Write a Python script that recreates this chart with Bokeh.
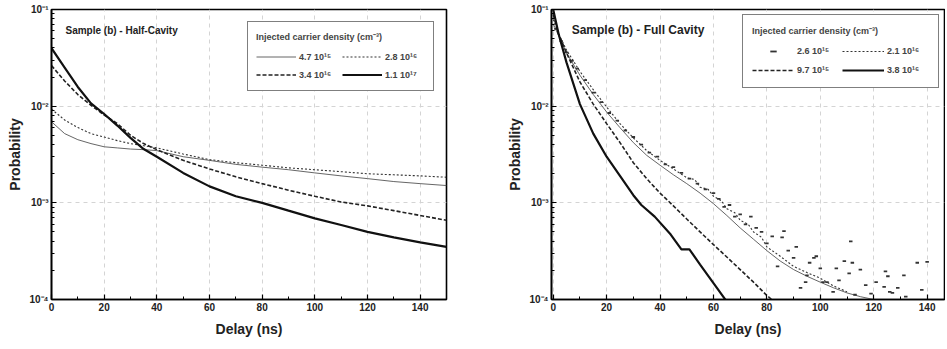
from bokeh.plotting import figure
from bokeh.layouts import row
from bokeh.models import Range1d, FixedTicker, Legend, LegendItem, Label
from bokeh.embed import file_html
from bokeh.resources import INLINE

FONT = "Liberation Sans"

# ---------------- Left panel: Sample (b) - Half-Cavity ----------------
half_delay = [0, 5, 10, 15, 20, 25, 30, 35, 40, 50, 60, 70, 80, 90, 100, 110, 120, 130, 140, 150]
half_4p7e15 = [0.0069, 0.0052, 0.0045, 0.0041, 0.0038, 0.0037, 0.0036, 0.00355, 0.00347, 0.0030,
               0.00275, 0.0025, 0.00234, 0.0022, 0.00204, 0.0019, 0.00178, 0.00166, 0.00158, 0.00151]
half_2p8e16 = [0.0093, 0.0072, 0.0060, 0.0052, 0.0048, 0.0044, 0.0041, 0.0039, 0.0037, 0.0032,
               0.0028, 0.0026, 0.00245, 0.0023, 0.0022, 0.0021, 0.0020, 0.00195, 0.0019, 0.00184]
half_3p4e16 = [0.0263, 0.0182, 0.0132, 0.0102, 0.0081, 0.0066, 0.0050, 0.0041, 0.00355, 0.00275,
               0.00224, 0.00186, 0.00158, 0.00135, 0.00117, 0.00102, 0.00093, 0.00083, 0.00074, 0.00066]
half_1p1e17 = [0.0398, 0.0251, 0.0158, 0.0107, 0.0083, 0.0063, 0.0047, 0.0036, 0.0030, 0.00204,
               0.00148, 0.00117, 0.00100, 0.00083, 0.00069, 0.00059, 0.00050, 0.00044, 0.00039, 0.00035]

# ---------------- Right panel: Sample (b) - Full Cavity ----------------
full_3p8e16_delay = [0, 2, 5, 10, 15, 20, 25, 30, 33, 38, 44, 48, 51, 55, 60, 65]
full_3p8e16 = [0.100, 0.0562, 0.0282, 0.0105, 0.0052, 0.0030, 0.0019, 0.0012, 0.00095, 0.00072,
               0.00047, 0.00033, 0.00033, 0.00023, 0.000148, 0.000095]

full_9p7e15_delay = [0, 2, 5, 10, 15, 20, 25, 30, 35, 40, 45, 50, 55, 60, 65, 70, 75, 80, 84]
full_9p7e15 = [0.089, 0.056, 0.0355, 0.0178, 0.0105, 0.0066, 0.0042, 0.0026, 0.00178, 0.00126,
               0.00093, 0.00068, 0.00050, 0.00037, 0.000275, 0.000204, 0.000151, 0.00011, 0.000089]

full_2p1e16_delay = [0, 2, 5, 10, 15, 20, 25, 30, 35, 40, 45, 50, 53, 55, 58, 60, 63, 65, 68, 70,
                     73, 75, 78, 80, 85, 90, 95, 100, 105, 110]
full_2p1e16 = [0.079, 0.056, 0.038, 0.0229, 0.0148, 0.0098, 0.0066, 0.0047, 0.00347, 0.00275,
               0.00224, 0.00182, 0.00174, 0.00145, 0.00138, 0.00117, 0.00105, 0.00087, 0.00079, 0.00066,
               0.00060, 0.00050, 0.00044, 0.00035, 0.00028, 0.00022, 0.00019, 0.000166, 0.000138, 0.00012]

full_fit_delay = [0, 5, 10, 15, 20, 25, 30, 35, 40, 45, 50, 55, 60, 65, 70, 75, 80, 85, 90, 95,
                  100, 105, 110, 115, 120]
full_fit = [0.071, 0.0355, 0.0209, 0.0132, 0.0087, 0.0060, 0.0042, 0.0031, 0.00245, 0.00195,
            0.00158, 0.00126, 0.00098, 0.00074, 0.00055, 0.00042, 0.00032, 0.00025, 0.000204, 0.000174,
            0.000151, 0.000132, 0.000117, 0.000107, 0.0001]

full_2p6e15_delay = [1, 3, 5, 7, 9, 12, 15, 18, 21, 24, 27, 30, 33, 36, 39, 42, 45, 48, 51, 54,
                     57, 60, 62, 64, 66, 68, 70, 72, 74, 76, 78, 80, 82, 84, 85.7, 86.4, 88, 90, 91, 92.6,
                     94.5, 95, 96, 97.6, 98.5, 100, 101, 102.5, 104.8, 106, 107, 109, 110.8, 111.4, 112,
                     113, 115, 117, 119, 120.9, 123.9, 124.4, 125.3, 126, 127, 129, 131.3, 132, 136.3, 138, 140]
full_2p6e15 = [0.063, 0.047, 0.036, 0.0295, 0.0245, 0.0186, 0.0138, 0.0110, 0.0085, 0.0071,
               0.0056, 0.0048, 0.0040, 0.0033, 0.0030, 0.0025, 0.00234, 0.00204, 0.00178, 0.00158,
               0.00138, 0.00126, 0.00110, 0.00091, 0.00095, 0.00072, 0.00076, 0.00060, 0.00072, 0.00055,
               0.00050, 0.00038, 0.00045, 0.00022, 0.00044, 0.00051, 0.00032, 0.00027, 0.00035, 0.000132,
               0.000151, 0.000178, 0.00024, 0.00027, 0.00028, 0.00021, 0.000151, 0.000151, 0.00012, 0.00021,
               0.000158, 0.00025, 0.000186, 0.00040, 0.00024, 0.000112, 0.000204, 0.000141, 0.000115, 0.000151,
               0.000135, 0.000195, 0.000174, 0.00012, 0.000117, 0.000132, 0.000178, 0.000107, 0.00024, 0.000126,
               0.000245]

x_ticks = [0, 20, 40, 60, 80, 100, 120, 140]
x_minor = [10, 30, 50, 70, 90, 110, 130, 150]
y_ticks = [1e-4, 1e-3, 1e-2, 1e-1]
y_tick_labels = ["10⁻⁴", "10⁻³", "10⁻²", "10⁻¹"]
y_minor = [m * d for d in (1e-4, 1e-3, 1e-2) for m in range(2, 10)]


def make_fig(width, x_start, x_end, border_left, border_right):
    p = figure(width=width, height=345, x_axis_type="linear", y_axis_type="log",
               x_range=Range1d(x_start, x_end), y_range=Range1d(1e-4, 1e-1),
               output_backend="svg", toolbar_location=None,
               min_border_left=border_left, min_border_right=border_right,
               min_border_top=9, min_border_bottom=46)
    p.background_fill_color = "white"
    p.outline_line_color = "black"
    p.outline_line_width = 1.6
    p.outline_line_alpha = 1.0
    p.xaxis.ticker = FixedTicker(ticks=x_ticks, minor_ticks=x_minor)
    p.yaxis.ticker = FixedTicker(ticks=y_ticks, minor_ticks=y_minor)
    p.yaxis.major_label_overrides = dict(zip(y_ticks, y_tick_labels))
    for ax in (p.xaxis, p.yaxis):
        ax.axis_line_color = "black"
        ax.axis_line_width = 1.6
        ax.major_tick_in = 5
        ax.major_tick_out = 0
        ax.minor_tick_in = 3
        ax.minor_tick_out = 0
        ax.major_tick_line_width = 1.2
        ax.major_label_text_font = FONT
        ax.major_label_text_font_size = "10px"
        ax.major_label_text_font_style = "bold"
        ax.major_label_text_color = "#222222"
        ax.axis_label_text_font = FONT
        ax.axis_label_text_font_size = "14px"
        ax.axis_label_text_font_style = "bold"
        ax.axis_label_text_color = "#222222"
        ax.major_label_standoff = 3
    p.xaxis.axis_label = "Delay (ns)"
    p.yaxis.axis_label = "Probability"
    p.xaxis.axis_label_standoff = 7
    p.yaxis.axis_label_standoff = 3
    for g in (p.xgrid, p.ygrid):
        g.grid_line_color = "#d4d4d4"
        g.grid_line_dash = "4 4"
        g.grid_line_width = 1
    return p


def style_legend(leg, margin, glyph_w, label_w, row_h, pad):
    leg.location = "top_right"
    leg.margin = margin
    leg.ncols = 2
    leg.border_line_color = "black"
    leg.border_line_width = 1.6
    leg.background_fill_color = "white"
    leg.background_fill_alpha = 1.0
    leg.padding = pad
    leg.spacing = 3
    leg.glyph_width = glyph_w
    leg.glyph_height = row_h
    leg.label_height = row_h
    leg.label_width = label_w
    leg.label_standoff = 3
    leg.label_text_font = FONT
    leg.label_text_font_size = "9px"
    leg.label_text_font_style = "bold"
    leg.title_text_font = FONT
    leg.title_text_font_size = "9px"
    leg.title_text_font_style = "bold"
    leg.title_standoff = 6


# ---- left figure ----
p1 = make_fig(468, 0, 150, 51, 22)
r_thin = p1.line(half_delay, half_4p7e15, line_color="#555555", line_width=0.9)
r_dot = p1.line(half_delay, half_2p8e16, line_color="#333333", line_width=1.1, line_dash="2 2")
r_dash = p1.line(half_delay, half_3p4e16, line_color="#222222", line_width=1.6, line_dash="4 2")
r_thick = p1.line(half_delay, half_1p1e17, line_color="#111111", line_width=2.2)
# column-major fill: column 1 = first two items, column 2 = last two
leg1 = Legend(items=[
    LegendItem(label="4.7 10¹⁵", renderers=[r_thin]),
    LegendItem(label="3.4 10¹⁶", renderers=[r_dash]),
    LegendItem(label="2.8 10¹⁶", renderers=[r_dot]),
    LegendItem(label="1.1 10¹⁷", renderers=[r_thick]),
], title="Injected carrier density (cm⁻³)")
style_legend(leg1, 12, 40, 40, 15, 8)
p1.add_layout(leg1)
p1.add_layout(Label(x=5.3, y=0.061, text="Sample (b) - Half-Cavity", text_font=FONT,
                    text_font_size="10px", text_font_style="bold", text_color="#222222",
                    text_baseline="middle"))

# ---- right figure ----
p2 = make_fig(477, -0.64, 146.5, 83, 1)
p2.line(full_fit_delay, full_fit, line_color="#555555", line_width=0.9)
r_pts = p2.scatter(full_2p6e15_delay, full_2p6e15, marker="dash", size=3.5,
                   line_color="#333333", line_width=1.8)
r_dot2 = p2.line(full_2p1e16_delay, full_2p1e16, line_color="#333333", line_width=1.1, line_dash="2 2")
r_dash2 = p2.line(full_9p7e15_delay, full_9p7e15, line_color="#222222", line_width=1.6, line_dash="4 2")
r_thick2 = p2.line(full_3p8e16_delay, full_3p8e16, line_color="#111111", line_width=2.2)
leg2 = Legend(items=[
    LegendItem(label="2.6 10¹⁵", renderers=[r_pts]),
    LegendItem(label="9.7 10¹⁵", renderers=[r_dash2]),
    LegendItem(label="2.1 10¹⁶", renderers=[r_dot2]),
    LegendItem(label="3.8 10¹⁶", renderers=[r_thick2]),
], title="Injected carrier density (cm⁻³)")
style_legend(leg2, 5, 42, 42, 16, 9)
p2.add_layout(leg2)
p2.add_layout(Label(x=6.9, y=0.062, text="Sample (b) - Full Cavity", text_font=FONT,
                    text_font_size="12px", text_font_style="bold", text_color="#222222",
                    text_baseline="middle"))

layout = row(p1, p2)
open("out.html", "w").write(file_html(layout, INLINE))
